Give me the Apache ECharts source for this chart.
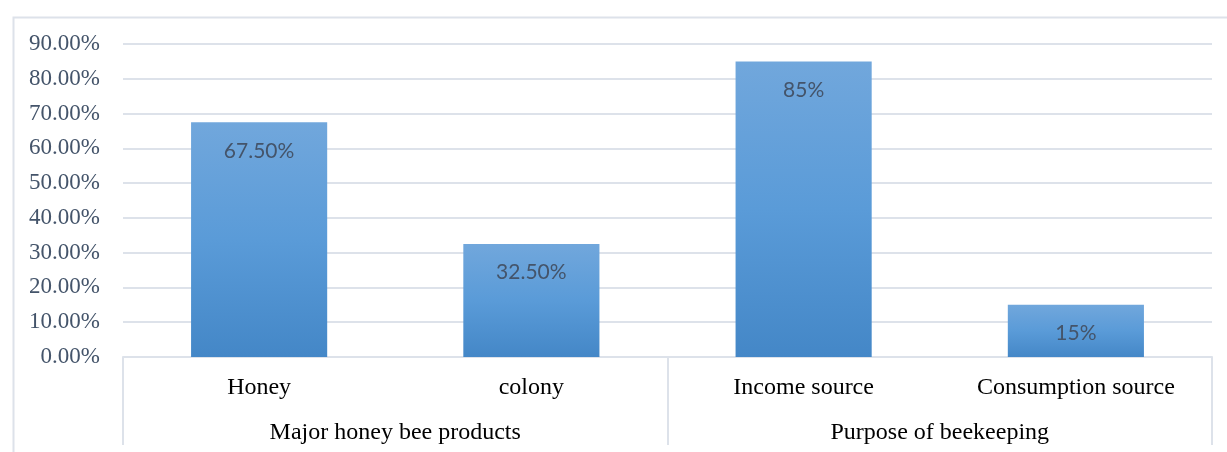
<!DOCTYPE html>
<html><head><meta charset="utf-8">
<script src="https://cdn.jsdelivr.net/npm/echarts@6/dist/echarts.min.js"></script>
<style>html,body{margin:0;padding:0;background:#fff}#c{width:1227px;height:452px}</style>
</head><body><div id="c"></div>
<script>
const categories = ['Honey', 'colony', 'Income source', 'Consumption source'];
const groups = ['Major honey bee products', 'Purpose of beekeeping'];
const values = [67.5, 32.5, 85, 15];
const valueLabels = ['67.50%', '32.50%', '85%', '15%'];
const yTicks = { min: 0, max: 90, interval: 10 };

const chart = echarts.init(document.getElementById('c'), null, { renderer: 'canvas' });
chart.setOption({
  animation: false,
  backgroundColor: '#fff',
  graphic: [{
    type: 'rect', left: 11, top: 15, silent: true,
    shape: { width: 1240, height: 460 },
    style: { fill: 'none', stroke: '#dde2ea', lineWidth: 2 }
  }],
  grid: { left: 123, right: 15, top: 44, bottom: 95, containLabel: false },
  xAxis: [{
    type: 'category', data: categories, position: 'bottom',
    axisLine: { show: true, lineStyle: { color: '#dde2ea', width: 2 } },
    axisTick: { show: false },
    axisLabel: { margin: 19, color: '#000', fontFamily: 'Liberation Serif', fontSize: 24 }
  }, {
    type: 'category', data: groups, position: 'bottom',
    axisLine: { show: false },
    axisTick: { show: true, length: 88, lineStyle: { color: '#dde2ea', width: 2 } },
    axisLabel: { margin: 64, color: '#000', fontFamily: 'Liberation Serif', fontSize: 24 }
  }],
  yAxis: {
    type: 'value', min: yTicks.min, max: yTicks.max, interval: yTicks.interval,
    axisLine: { show: false }, axisTick: { show: false },
    splitLine: { lineStyle: { color: '#dde2ea', width: 2 } },
    axisLabel: { margin: 23, color: '#44546a', fontFamily: 'Liberation Serif', fontSize: 23,
      formatter: v => v.toFixed(2) + '%' }
  },
  series: [{
    type: 'bar', xAxisIndex: 0, data: values, barWidth: '50%',
    itemStyle: { color: new echarts.graphic.LinearGradient(0, 0, 0, 1, [
      { offset: 0, color: '#71a7dc' }, { offset: 0.5, color: '#5a9bd8' }, { offset: 1, color: '#4487c7' }]) },
    label: { show: true, position: 'insideTop', distance: 18,
      formatter: p => valueLabels[p.dataIndex],
      color: '#44546a', fontFamily: 'Lato', fontSize: 21 }
  }]
});
</script></body></html>
